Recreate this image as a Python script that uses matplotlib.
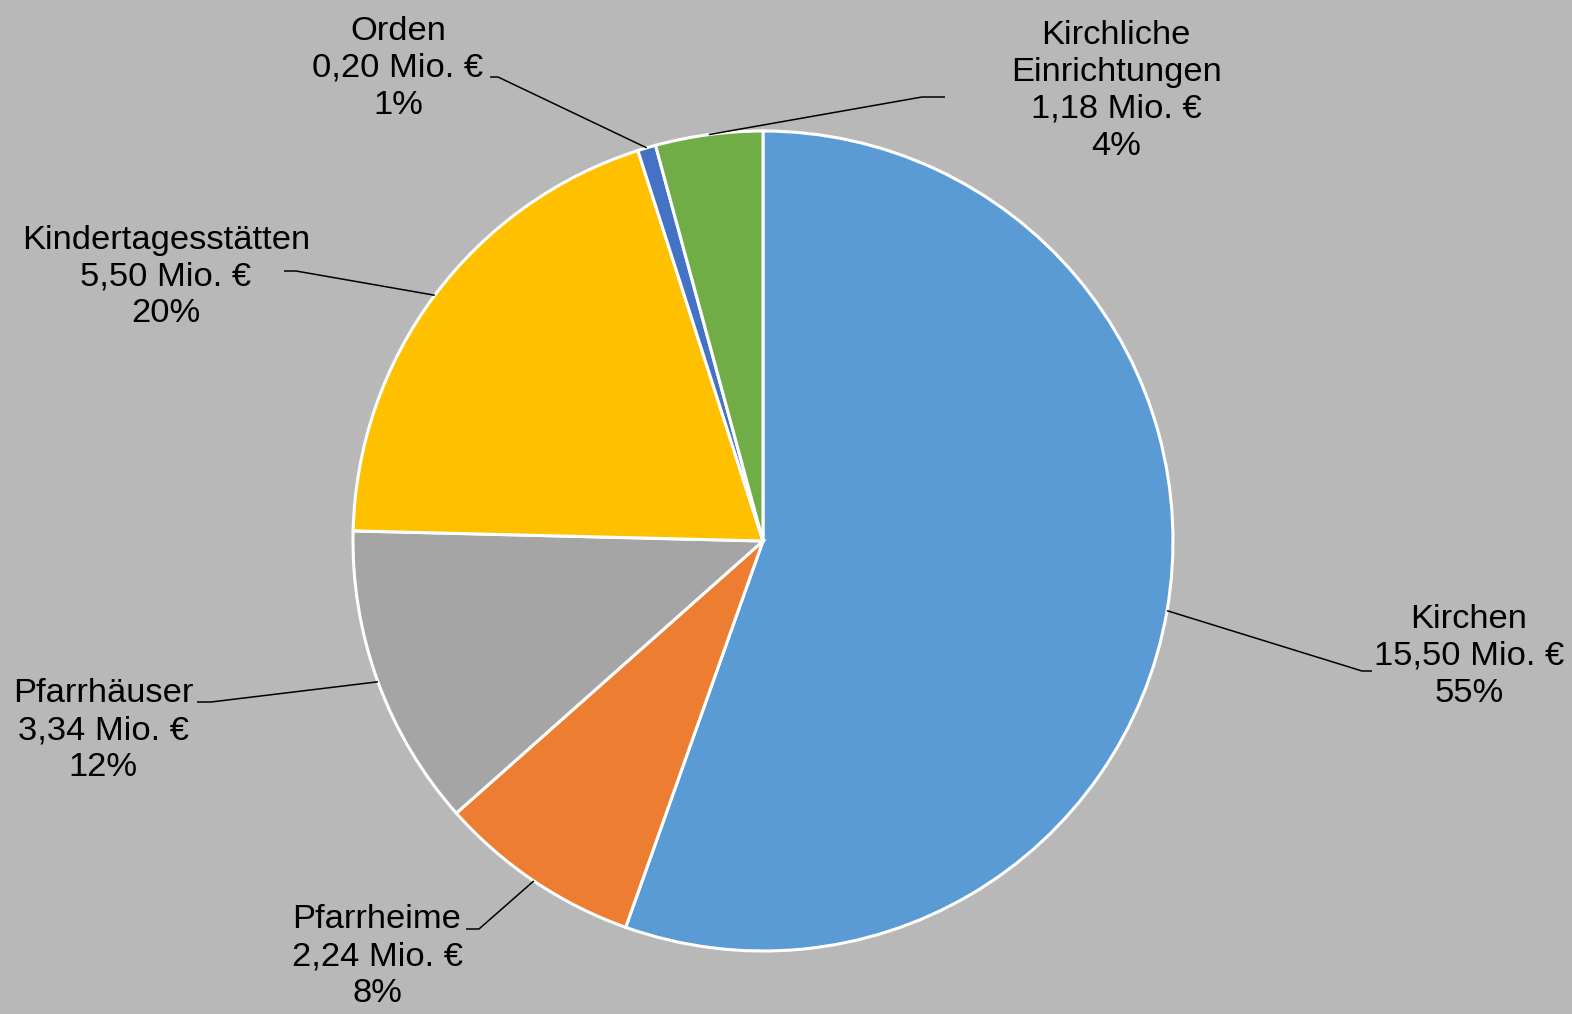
import numpy as np
import matplotlib
matplotlib.use("Agg")
import matplotlib.pyplot as plt

# data: order as drawn, clockwise from 12 o'clock
categories = ["Kirchen", "Pfarrheime", "Pfarrhäuser", "Kindertagesstätten",
              "Orden", "Kirchliche\nEinrichtungen"]
values = [15.50, 2.24, 3.34, 5.50, 0.20, 1.18]
colors = ["#5B9BD5", "#ED7D31", "#A5A5A5", "#FFC000", "#4472C4", "#70AD47"]

# label layout in picture pixels (x, y from top): text centre, leader elbow, leader end
label_pos = [(1469, 656), (377, 957), (103, 731), (166, 277), (398, 68), (1116, 91)]
elbow_pos = [(1362, 671), (479, 929), (211, 702), (296, 271), (498, 77), (922, 97)]
end_pos = [(1372, 671), (466, 929), (197, 702), (284, 271), (490, 77), (945, 97)]

W, H = 1572, 1014
cx, cy, r = 763, 541, 410
bg = "#B8B8B8"

plt.rcParams['font.family'] = ['Liberation Sans', 'DejaVu Sans']

fig = plt.figure(figsize=(W / 100, H / 100), dpi=100, facecolor=bg)
ax = fig.add_axes([0, 0, 1, 1])
ax.set_facecolor(bg)


def fy(y):
    # picture y (down) -> data y (up)
    return H - y


wedges, _ = ax.pie(values, colors=colors, startangle=90, counterclock=False,
                   center=(cx, fy(cy)), radius=r, frame=True,
                   wedgeprops=dict(edgecolor="white", linewidth=2.2))
ax.set_xlim(0, W)
ax.set_ylim(0, H)
ax.set_aspect('equal')
ax.axis('off')

total = sum(values)
for w, name, v, lp, ep, tp in zip(wedges, categories, values, label_pos, elbow_pos, end_pos):
    mid = np.deg2rad((w.theta1 + w.theta2) / 2)
    sx = cx + r * np.cos(mid)
    sy = fy(cy) + r * np.sin(mid)
    ax.plot([sx, ep[0], tp[0]], [sy, fy(ep[1]), fy(tp[1])], color="black", lw=1.1,
            solid_capstyle='butt')
    txt = "%s\n%s Mio. €\n%d%%" % (name, ("%.2f" % v).replace('.', ','),
                                   round(v / total * 100))
    ax.text(lp[0], fy(lp[1]), txt, ha='center', va='center', multialignment='center',
            fontsize=24.8, linespacing=1.25, color="black")

fig.savefig("out.png", dpi=100, facecolor=bg)
